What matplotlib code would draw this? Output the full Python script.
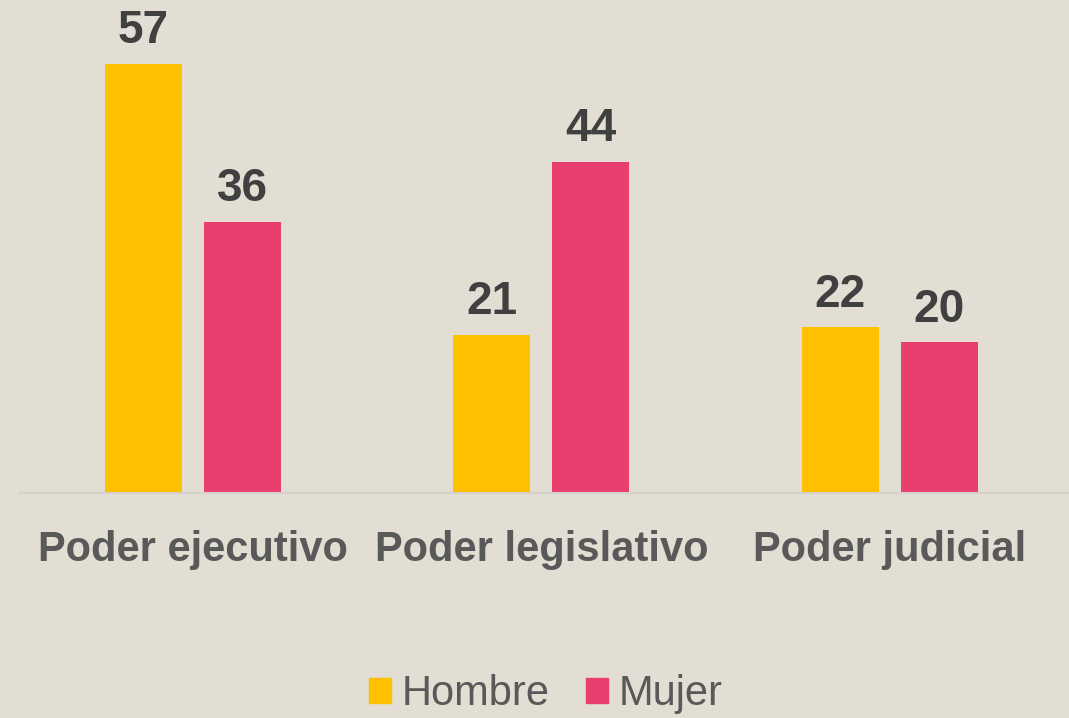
import matplotlib
matplotlib.use("Agg")
import matplotlib.pyplot as plt
from matplotlib.patches import Patch
import numpy as np

categories = ["Poder ejecutivo", "Poder legislativo", "Poder judicial"]
series_names = ["Hombre", "Mujer"]
hombre = [57, 21, 22]
mujer = [36, 44, 20]

bg = "#E3DED3"
c_h = "#FFC000"
c_m = "#E93F6F"

plt.rcParams['font.family'] = ['Liberation Sans', 'DejaVu Sans']

W, H = 1069, 718
fig = plt.figure(figsize=(W / 100, H / 100), dpi=100, facecolor=bg)
ax = fig.add_axes([19 / W, (H - 493) / H, 1 - 19 / W, 493 / H])
ax.set_facecolor(bg)

x = np.arange(len(categories))
bw = 0.221
off = 0.142
b1 = ax.bar(x - off, hombre, bw, color=c_h, label=series_names[0])
b2 = ax.bar(x + off, mujer, bw, color=c_m, label=series_names[1])

for bars, vals in ((b1, hombre), (b2, mujer)):
    for r, v in zip(bars, vals):
        ax.annotate(str(v), (r.get_x() + r.get_width() / 2, v),
                    xytext=(0, 15), textcoords="offset points",
                    ha="center", va="baseline", fontsize=33,
                    fontweight="bold", color="#404040")

ax.set_xlim(-0.499, -0.499 + 1050 / 348.5)
ax.set_ylim(0, 493 / 7.53)
ax.set_xticks(x)
ax.set_xticklabels(categories, fontsize=30, fontweight="bold", color="#595959")
ax.tick_params(axis="x", length=0, pad=27)
ax.set_yticks([])
for s in ("top", "right", "left"):
    ax.spines[s].set_visible(False)
ax.spines["bottom"].set_color("#D5D2CC")
ax.spines["bottom"].set_linewidth(1.5)

handles = [Patch(color=c_h), Patch(color=c_m)]
leg = fig.legend(handles, series_names, loc="center",
                 bbox_to_anchor=(546 / W, 1 - 694 / H), ncol=2,
                 frameon=False, fontsize=30, handlelength=0.53,
                 handleheight=0.53, handletextpad=0.26, columnspacing=0.86,
                 borderpad=0, borderaxespad=0)
for t in leg.get_texts():
    t.set_color("#595959")

fig.savefig("out.png", dpi=100, facecolor=bg)
